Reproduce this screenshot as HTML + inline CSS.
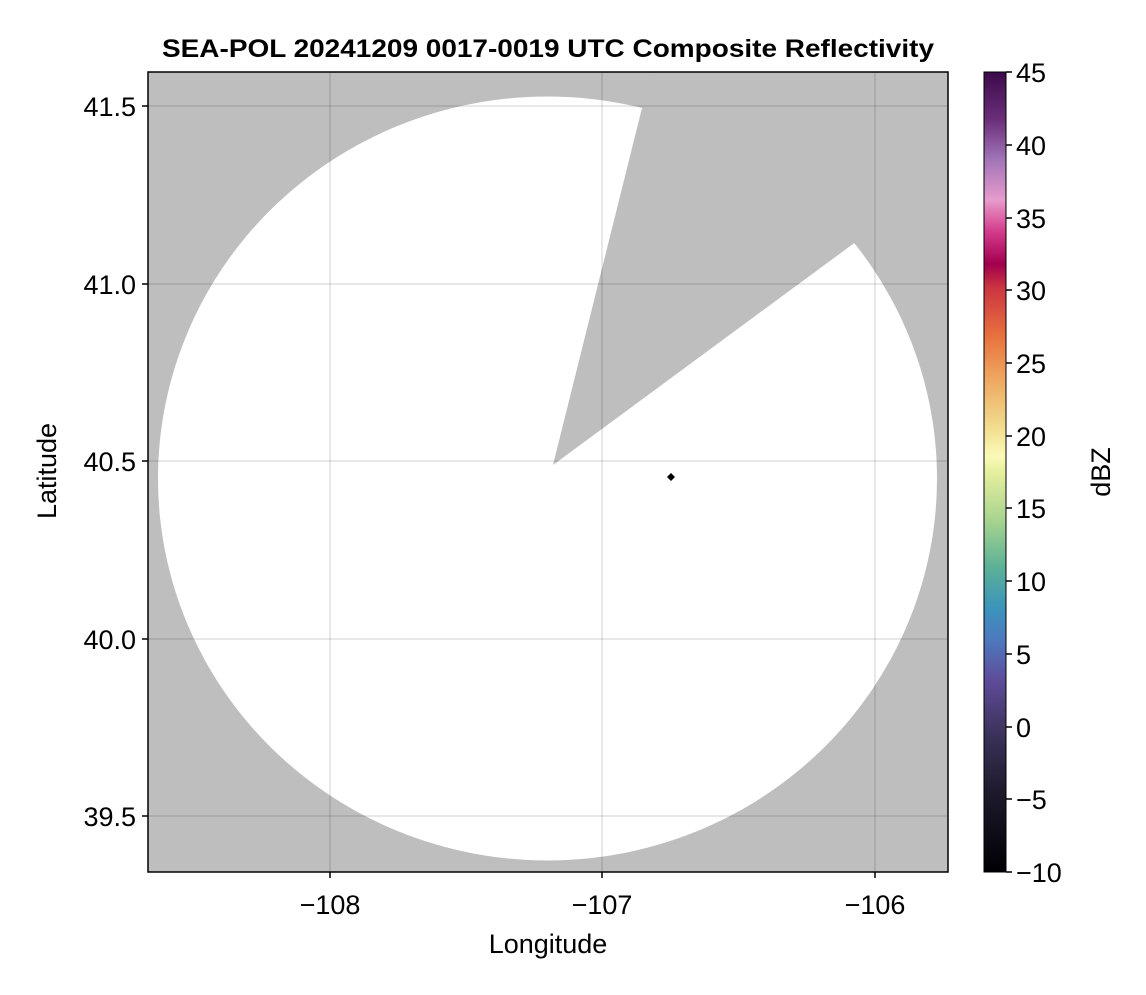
<!DOCTYPE html>
<html><head><style>body{margin:0;background:#fff}</style></head><body>
<svg width="1146" height="990" xmlns="http://www.w3.org/2000/svg" font-family="Liberation Sans, sans-serif">
<defs>
<linearGradient id="cb" x1="0" y1="1" x2="0" y2="0">
<stop offset="0" stop-color="#000004"/>
<stop offset="0.1" stop-color="#1e1a2c"/>
<stop offset="0.18" stop-color="#3f3560"/>
<stop offset="0.24" stop-color="#5f4c9a"/>
<stop offset="0.29" stop-color="#4d79be"/>
<stop offset="0.33" stop-color="#3c94bb"/>
<stop offset="0.38" stop-color="#5bb096"/>
<stop offset="0.44" stop-color="#a8d48f"/>
<stop offset="0.5" stop-color="#e6ef9e"/>
<stop offset="0.52" stop-color="#fbf9b8"/>
<stop offset="0.56" stop-color="#f1d98a"/>
<stop offset="0.62" stop-color="#eea35e"/>
<stop offset="0.67" stop-color="#e8713e"/>
<stop offset="0.73" stop-color="#cc3541"/>
<stop offset="0.76" stop-color="#a2004e"/>
<stop offset="0.8" stop-color="#d43a8a"/>
<stop offset="0.84" stop-color="#e79bcc"/>
<stop offset="0.89" stop-color="#a275b8"/>
<stop offset="0.94" stop-color="#6b2f7a"/>
<stop offset="1" stop-color="#3b0a4a"/>
</linearGradient>
<clipPath id="pa"><rect x="148" y="72" width="800" height="800"/></clipPath>
</defs>
<text x="162" y="57" font-size="25" font-weight="bold" textLength="772" lengthAdjust="spacingAndGlyphs">SEA-POL 20241209 0017-0019 UTC Composite Reflectivity</text>
<g clip-path="url(#pa)">
<rect x="148" y="72" width="800" height="800" fill="#bebebe"/>
<ellipse cx="547.5" cy="478.5" rx="389.5" ry="382" fill="#fff"/>
<polygon points="553,465 651,72 948,72 948,174" fill="#bebebe"/>
<g stroke="#000" stroke-opacity="0.12" stroke-width="1.5">
<line x1="330" y1="72" x2="330" y2="872"/><line x1="602" y1="72" x2="602" y2="872"/><line x1="875" y1="72" x2="875" y2="872"/>
<line x1="148" y1="106" x2="948" y2="106"/><line x1="148" y1="284" x2="948" y2="284"/><line x1="148" y1="461" x2="948" y2="461"/><line x1="148" y1="639" x2="948" y2="639"/><line x1="148" y1="816" x2="948" y2="816"/>
</g>
<polygon points="671,473 675,477 671,481 667,477" fill="#000"/>
</g>
<rect x="148" y="72" width="800" height="800" fill="none" stroke="#000" stroke-width="1.5"/>
<g stroke="#000" stroke-width="1.5">
<line x1="330" y1="872" x2="330" y2="878"/><line x1="602" y1="872" x2="602" y2="878"/><line x1="875" y1="872" x2="875" y2="878"/>
<line x1="142" y1="106" x2="148" y2="106"/><line x1="142" y1="284" x2="148" y2="284"/><line x1="142" y1="461" x2="148" y2="461"/><line x1="142" y1="639" x2="148" y2="639"/><line x1="142" y1="816" x2="148" y2="816"/>
</g>
<g font-size="27" text-anchor="middle">
<text x="330" y="914">−108</text><text x="602" y="914">−107</text><text x="875" y="914">−106</text>
<text x="548" y="953">Longitude</text>
</g>
<g font-size="27" text-anchor="end">
<text x="136" y="116">41.5</text><text x="136" y="294">41.0</text><text x="136" y="471">40.5</text><text x="136" y="649">40.0</text><text x="136" y="826">39.5</text>
</g>
<text transform="translate(56,471) rotate(-90)" font-size="27" text-anchor="middle">Latitude</text>
<rect x="984" y="72" width="22" height="800" fill="url(#cb)"/>
<rect x="984" y="72" width="22" height="800" fill="none" stroke="#000" stroke-width="1"/>
<g stroke="#000" stroke-width="1.5">
<line x1="1006" y1="72" x2="1012" y2="72"/><line x1="1006" y1="145" x2="1012" y2="145"/><line x1="1006" y1="218" x2="1012" y2="218"/><line x1="1006" y1="290" x2="1012" y2="290"/><line x1="1006" y1="363" x2="1012" y2="363"/><line x1="1006" y1="436" x2="1012" y2="436"/><line x1="1006" y1="508" x2="1012" y2="508"/><line x1="1006" y1="581" x2="1012" y2="581"/><line x1="1006" y1="654" x2="1012" y2="654"/><line x1="1006" y1="727" x2="1012" y2="727"/><line x1="1006" y1="799" x2="1012" y2="799"/><line x1="1006" y1="872" x2="1012" y2="872"/>
</g>
<g font-size="27">
<text x="1016" y="82">45</text><text x="1016" y="155">40</text><text x="1016" y="228">35</text><text x="1016" y="300">30</text><text x="1016" y="373">25</text><text x="1016" y="446">20</text><text x="1016" y="518">15</text><text x="1016" y="591">10</text><text x="1016" y="664">5</text><text x="1016" y="737">0</text><text x="1016" y="809">−5</text><text x="1016" y="882">−10</text>
</g>
<text transform="translate(1110,472) rotate(-90)" font-size="27" text-anchor="middle">dBZ</text>
</svg>
</body></html>
